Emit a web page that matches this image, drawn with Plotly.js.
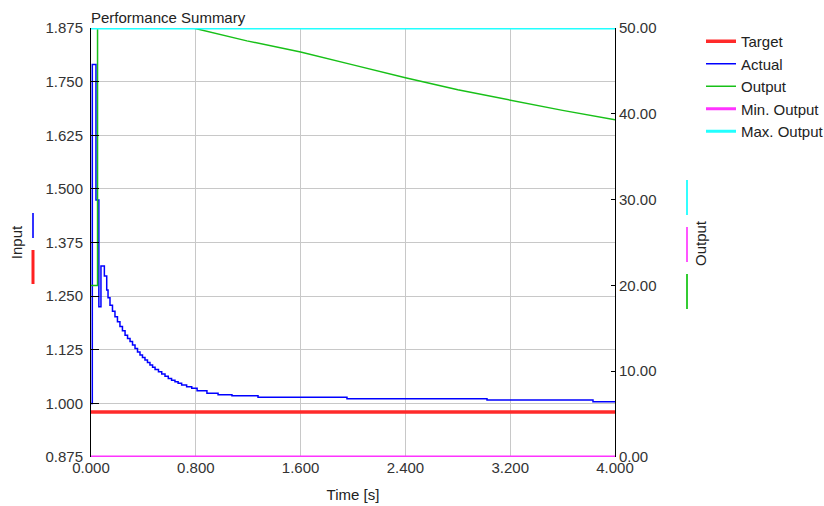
<!DOCTYPE html>
<html>
<head>
<meta charset="utf-8">
<script src="https://cdn.plot.ly/plotly-3.0.1.min.js"></script>
<style>html,body{margin:0;padding:0;background:#fff;}#chart{width:824px;height:506px;}</style>
</head>
<body>
<div id="chart"></div>
<script>
// Data
const seriesNames = ['Target', 'Actual', 'Output', 'Min. Output', 'Max. Output'];

const timeRange = [0, 4];
const targetTime = [0, 4];
const targetValue = [0.98, 0.98];

const actualTime = [0, 0.01, 0.038, 0.06, 0.076, 0.102, 0.12, 0.13, 0.145, 0.164, 0.183, 0.202, 0.221, 0.24, 0.26, 0.279, 0.298, 0.317, 0.336, 0.355, 0.374, 0.393, 0.412, 0.431, 0.45, 0.47, 0.489, 0.515, 0.54, 0.565, 0.59, 0.615, 0.641, 0.665, 0.692, 0.73, 0.769, 0.81, 0.885, 0.97, 1.076, 1.275, 1.954, 3.023, 3.832, 4.0];
const actualValue = [1.0, 1.79, 1.474, 1.225, 1.32, 1.297, 1.264, 1.246, 1.229, 1.215, 1.202, 1.19, 1.179, 1.169, 1.159, 1.151, 1.144, 1.136, 1.128, 1.12, 1.113, 1.107, 1.101, 1.095, 1.0895, 1.084, 1.079, 1.074, 1.0685, 1.063, 1.058, 1.054, 1.0505, 1.047, 1.043, 1.039, 1.035, 1.0295, 1.0235, 1.020, 1.018, 1.014, 1.011, 1.008, 1.004, 1.004];

const outputTime = [0, 0.05, 0.05, 0.78, 1.19, 1.6, 2.0, 2.4, 2.8, 3.2, 3.6, 4.0];
const outputValue = [20, 20, 50, 50, 48.5, 47.2, 45.7, 44.2, 42.8, 41.6, 40.4, 39.3];

const minOutputTime = [0, 4];
const minOutputValue = [0, 0];
const maxOutputTime = [0, 4];
const maxOutputValue = [50, 50];

const inputTickFormat = '.3f';
const outputTickFormat = '.2f';
const timeTickFormat = '.3f';

const FONT = '"Liberation Sans", Arial, sans-serif';
const colors = {Target: '#ff2a2a', Actual: '#0000ff', Output: '#18c018', Min: '#ff33ff', Max: '#22ffff'};

const traces = [
  {x: targetTime, y: targetValue, name: seriesNames[0], type: 'scatter', mode: 'lines', line: {color: colors.Target, width: 3.5}, yaxis: 'y'},
  {x: actualTime, y: actualValue, name: seriesNames[1], type: 'scatter', mode: 'lines', line: {color: colors.Actual, width: 1.5, shape: 'hv'}, yaxis: 'y'},
  {x: outputTime, y: outputValue, name: seriesNames[2], type: 'scatter', mode: 'lines', line: {color: colors.Output, width: 1.5}, yaxis: 'y2'},
  {x: minOutputTime, y: minOutputValue, name: seriesNames[3], type: 'scatter', mode: 'lines', line: {color: colors.Min, width: 3}, yaxis: 'y2'},
  {x: maxOutputTime, y: maxOutputValue, name: seriesNames[4], type: 'scatter', mode: 'lines', line: {color: colors.Max, width: 3}, yaxis: 'y2'}
];

function px2x(px) { return (px - 91) / 524; }
function px2y(py) { return (457 - py) / 429; }
function bar(xpx, y0px, y1px, color, w) {
  return {type: 'line', xref: 'paper', yref: 'paper', x0: px2x(xpx), x1: px2x(xpx), y0: px2y(y1px), y1: px2y(y0px), line: {color: color, width: w}};
}

const layout = {
  width: 824, height: 506,
  margin: {l: 91, r: 209, t: 28, b: 49, autoexpand: false},
  paper_bgcolor: '#ffffff', plot_bgcolor: '#ffffff',
  font: {family: FONT, size: 15, color: '#333333'},
  title: {text: 'Performance Summary', x: 91 / 824, xanchor: 'left', xref: 'container', y: 1 - 18 / 506, yref: 'container', yanchor: 'middle', font: {family: FONT, size: 15, color: '#222222'}},
  showlegend: true,
  legend: {xref: 'container', yref: 'container', x: 701 / 824, xanchor: 'left', y: 1 - 25 / 506, yanchor: 'top', font: {family: FONT, size: 15, color: '#222222'}, bgcolor: 'rgba(0,0,0,0)', itemwidth: 30, tracegroupgap: 0},
  xaxis: {range: timeRange, dtick: 0.8, tick0: 0, tickformat: timeTickFormat, showgrid: true, gridcolor: '#c8c8c8', gridwidth: 1, zeroline: false, showline: false, ticks: '', title: {text: 'Time [s]', font: {family: FONT, size: 15, color: '#222222'}, standoff: 14}, tickfont: {size: 15, color: '#333333'}},
  yaxis: {range: [0.875, 1.875], dtick: 0.125, tick0: 0.875, tickformat: inputTickFormat, showgrid: true, gridcolor: '#c8c8c8', gridwidth: 1, zeroline: false, showline: true, linecolor: '#000000', linewidth: 1, ticks: 'inside', ticklen: 8, tickcolor: '#000000', ticklabelstandoff: 4, title: {text: 'Input', font: {family: FONT, size: 15, color: '#222222'}, standoff: 19}, tickfont: {size: 15, color: '#333333'}},
  yaxis2: {range: [0, 50], dtick: 10, tick0: 0, tickformat: outputTickFormat, overlaying: 'y', side: 'right', showgrid: false, zeroline: false, showline: true, linecolor: '#000000', linewidth: 1, ticks: 'inside', ticklen: 4, tickcolor: '#000000', tickfont: {size: 15, color: '#333333'}},
  annotations: [
    {text: 'Output', xref: 'paper', yref: 'paper', x: px2x(700), y: px2y(243), xanchor: 'center', yanchor: 'middle', textangle: -90, showarrow: false, font: {family: FONT, size: 15, color: '#222222'}}
  ],
  shapes: [
    bar(33, 213, 238, '#3333ff', 2),
    bar(33, 250, 284, '#ff2020', 3),
    bar(687, 180, 215, '#33ffff', 2),
    bar(687, 227, 262, '#ff55ff', 2),
    bar(687, 274, 309, '#33cc33', 2)
  ]
};

Plotly.newPlot('chart', traces, layout, {displayModeBar: false, staticPlot: true});
</script>
</body>
</html>
